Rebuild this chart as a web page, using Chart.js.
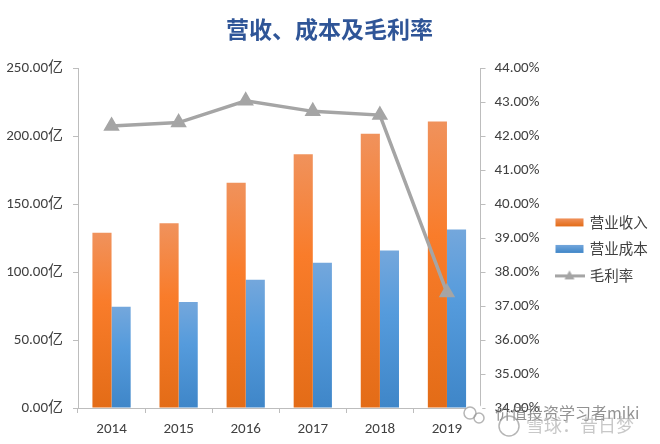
<!DOCTYPE html>
<html>
<head>
<meta charset="utf-8">
<style>
    html, body { margin: 0; padding: 0; background: #fff; }
    canvas { display: block; }
</style>
<script src="https://cdn.jsdelivr.net/npm/chart.js@4"></script>
</head>
<body>
<canvas id="marginChart" width="660" height="444"></canvas>
<script>
const years = ['2014', '2015', '2016', '2017', '2018', '2019'];
const revenue = [129, 136, 166, 187, 202, 211];
const cost = [74.5, 78, 94.5, 107, 116, 131.5];
const grossMargin = [42.31, 42.41, 43.05, 42.74, 42.63, 37.4];
const titleText = '营收、成本及毛利率';
const seriesNames = ['营业收入', '营业成本', '毛利率'];
const watermarkLines = ['价值投资学习者miki', '雪球：昔日梦'];

const FONT = '"Noto Sans CJK SC", "Noto Sans", sans-serif';
const TICK_FONT = 'Carlito, "Liberation Sans", "Noto Sans CJK SC", sans-serif';
const AXIS_GREY = '#bdbdbd';
const TEXT_GREY = '#404040';
const LINE_GREY = '#a5a5a5';
const ORANGE = ['#f0925c', '#f97c2a', '#e36c17'];
const BLUE = ['#74a7dc', '#559bdc', '#3f86c8'];

// each bar gets its own top-to-bottom gradient
function barGradient(stops) {
    return (context) => {
        const chart = context.chart;
        if (!chart.chartArea || !context.parsed) {
            return stops[1];
        }
        const top = chart.scales.y.getPixelForValue(context.parsed.y);
        const bottom = chart.scales.y.getPixelForValue(0);
        const gradient = chart.ctx.createLinearGradient(0, top, 0, bottom);
        gradient.addColorStop(0, stops[0]);
        gradient.addColorStop(0.4, stops[1]);
        gradient.addColorStop(1, stops[2]);
        return gradient;
    };
}

function swatch(draw) {
    const canvas = document.createElement('canvas');
    canvas.width = 30;
    canvas.height = 14;
    draw(canvas.getContext('2d'));
    return canvas;
}

function barSwatch(stops) {
    return swatch((ctx) => {
        const gradient = ctx.createLinearGradient(0, 3, 0, 11);
        gradient.addColorStop(0, stops[0]);
        gradient.addColorStop(1, stops[2]);
        ctx.fillStyle = gradient;
        ctx.fillRect(1, 3, 28, 8);
    });
}

const lineSwatch = swatch((ctx) => {
    ctx.fillStyle = LINE_GREY;
    ctx.fillRect(0, 6, 30, 3);
    ctx.beginPath();
    ctx.moveTo(15, 2);
    ctx.lineTo(20, 11);
    ctx.lineTo(10, 11);
    ctx.closePath();
    ctx.fill();
});

const legendSwatches = [barSwatch(ORANGE), barSwatch(BLUE), lineSwatch];

const watermarkPlugin = {
    id: 'watermark',
    afterDraw(chart) {
        const ctx = chart.ctx;
        ctx.save();
        ctx.fillStyle = '#fff';
        ctx.beginPath();
        ctx.arc(474, 412, 9, 0, Math.PI * 2);
        ctx.fill();
        ctx.textBaseline = 'middle';
        ctx.font = '16px ' + FONT;
        ctx.fillStyle = 'rgba(110,110,110,0.75)';
        ctx.fillText(watermarkLines[0], 495, 413);
        ctx.font = '18px ' + FONT;
        ctx.fillStyle = 'rgba(170,170,170,0.65)';
        ctx.fillText(watermarkLines[1], 526, 425);
        ctx.strokeStyle = 'rgba(150,150,150,0.7)';
        ctx.lineWidth = 1.5;
        ctx.beginPath();
        ctx.arc(509, 426, 10, 0, Math.PI * 2);
        ctx.stroke();
        ctx.beginPath();
        ctx.arc(470, 413, 6, 0, Math.PI * 2);
        ctx.stroke();
        ctx.beginPath();
        ctx.arc(479, 418, 5, 0, Math.PI * 2);
        ctx.stroke();
        ctx.restore();
    }
};

const chart = new Chart(document.getElementById('marginChart'), {
    type: 'bar',
    data: {
        labels: years,
        datasets: [
            {
                label: seriesNames[2],
                type: 'line',
                data: grossMargin,
                yAxisID: 'y1',
                borderColor: LINE_GREY,
                backgroundColor: LINE_GREY,
                borderWidth: 3.5,
                tension: 0,
                pointStyle: 'triangle',
                pointRadius: 6,
                order: 0
            },
            {
                label: seriesNames[0],
                data: revenue,
                backgroundColor: barGradient(ORANGE),
                categoryPercentage: 0.57,
                barPercentage: 1,
                order: 1
            },
            {
                label: seriesNames[1],
                data: cost,
                backgroundColor: barGradient(BLUE),
                categoryPercentage: 0.57,
                barPercentage: 1,
                order: 1
            }
        ]
    },
    options: {
        responsive: false,
        animation: false,
        layout: { padding: { left: 7, right: 8, top: 0, bottom: 0 } },
        scales: {
            x: {
                grid: { drawOnChartArea: false, color: AXIS_GREY, tickLength: 5 },
                border: { color: AXIS_GREY },
                ticks: { color: TEXT_GREY, font: { family: TICK_FONT, size: 15 }, padding: 7 },
                afterFit(scale) { scale.height = 36; }
            },
            y: {
                min: 0,
                max: 250,
                grid: { drawOnChartArea: false, color: AXIS_GREY, tickLength: 5 },
                border: { color: AXIS_GREY },
                ticks: {
                    stepSize: 50,
                    color: TEXT_GREY,
                    font: { family: TICK_FONT, size: 15 },
                    padding: 10,
                    callback: (value) => value.toFixed(2) + '亿'
                },
                afterFit(scale) { scale.width = 71; }
            },
            y1: {
                position: 'right',
                min: 34,
                max: 44,
                grid: { drawOnChartArea: false, color: AXIS_GREY, tickLength: 5 },
                border: { color: AXIS_GREY },
                ticks: {
                    stepSize: 1,
                    color: TEXT_GREY,
                    font: { family: TICK_FONT, size: 15 },
                    padding: 9,
                    callback: (value) => value.toFixed(2) + '%'
                },
                afterFit(scale) { scale.width = 64; }
            }
        },
        plugins: {
            title: {
                display: true,
                text: titleText,
                color: '#2f5597',
                font: { family: FONT, size: 23, weight: 'bold' },
                padding: { top: 15, bottom: 26 }
            },
            legend: {
                position: 'right',
                // empty title only pushes the rows down beside the axis
                title: { display: true, text: ' ', font: { size: 14 }, padding: { top: 37, bottom: 0 } },
                labels: {
                    usePointStyle: true,
                    pointStyleWidth: 26,
                    color: TEXT_GREY,
                    font: { family: FONT, size: 14.5 },
                    padding: 12,
                    sort: (a, b) => a.order - b.order,
                    generateLabels(chart) {
                        return seriesNames.map((name, i) => ({
                            text: name,
                            order: i,
                            pointStyle: legendSwatches[i],
                            fontColor: TEXT_GREY,
                            lineWidth: 0,
                            datasetIndex: i
                        }));
                    }
                }
            },
            tooltip: { enabled: false }
        }
    },
    plugins: [watermarkPlugin]
});
</script>
</body>
</html>
